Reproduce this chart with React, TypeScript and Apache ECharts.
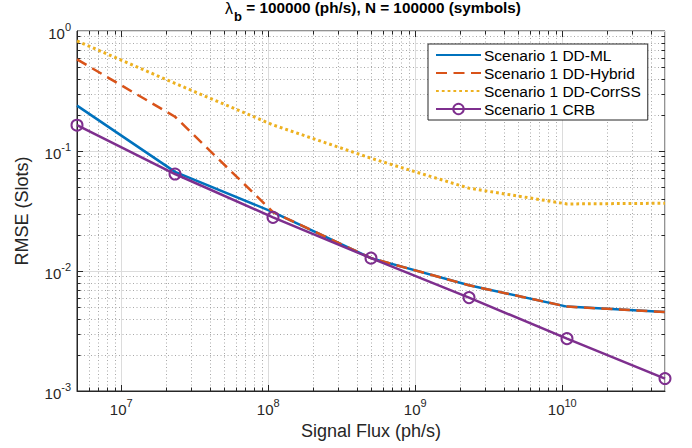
import React, { useEffect, useRef } from "react";
import * as echarts from "echarts";

const SIGNAL_FLUX = [5e6, 2.321e7, 1.077e8, 5e8, 2.321e9, 1.077e10, 5e10];
const DD_ML = [0.239, 0.067, 0.031, 0.0128, 0.0076, 0.00505, 0.00455];
const DD_HYBRID = [0.58, 0.193, 0.031, 0.0128, 0.0076, 0.00505, 0.00455];
const DD_CORRSS = [0.826, 0.366, 0.165, 0.087, 0.049, 0.0362, 0.0367];
const CRB = [0.164, 0.0643, 0.028, 0.0128, 0.006, 0.00273, 0.00127];
const SERIES_NAMES = [
  "Scenario 1 DD-ML",
  "Scenario 1 DD-Hybrid",
  "Scenario 1 DD-CorrSS",
  "Scenario 1 CRB",
];
const COLORS = ["#0072BD", "#D95319", "#EDB120", "#7E2F8E"];

const X_MIN = 5e6;
const X_MAX = 5e10;
const Y_MIN = 1e-3;
const Y_MAX = 1;
const X_DECADES = [1e6, 1e7, 1e8, 1e9, 1e10];
const Y_DECADES = [1e-3, 1e-2, 1e-1];
const MINOR_MULTIPLIERS = [2, 3, 4, 5, 6, 7, 8, 9];
const X_MAJOR = [1e7, 1e8, 1e9, 1e10];
const Y_MAJOR = [1e-2, 1e-1];

const FONT = "'Liberation Sans', Arial, Helvetica, sans-serif";
const AXIS_COLOR = "#262626";

const pairs = (ys: number[]) => SIGNAL_FLUX.map((x, i) => [x, ys[i]]);

const powLabel = (v: number) => {
  const l = Math.log10(v);
  const e = Math.round(l);
  if (Math.abs(l - e) > 1e-6) return "";
  return `{b|10}{s|${e}}`;
};

const labelRich = {
  b: { fontSize: 15, fontFamily: FONT, color: AXIS_COLOR, verticalAlign: "bottom" },
  s: { fontSize: 11, fontFamily: FONT, color: AXIS_COLOR, padding: [0, 0, 9, 0], verticalAlign: "bottom" },
};

export default function App() {
  const ref = useRef<HTMLDivElement>(null);
  useEffect(() => {
    if (!ref.current) return;
    const chart = echarts.init(ref.current, undefined, { renderer: "svg" });

    const minorX: number[] = [];
    X_DECADES.forEach((d) =>
      MINOR_MULTIPLIERS.forEach((m) => {
        const v = d * m;
        if (v > X_MIN && v < X_MAX) minorX.push(v);
      })
    );
    const minorY: number[] = [];
    Y_DECADES.forEach((d) =>
      MINOR_MULTIPLIERS.forEach((m) => {
        const v = d * m;
        if (v > Y_MIN && v < Y_MAX) minorY.push(v);
      })
    );

    const option: any = {
      animation: false,
      backgroundColor: "#ffffff",
      grid: {
        left: 77,
        right: 27,
        top: 31,
        bottom: 57,
        show: true,
        borderColor: AXIS_COLOR,
        borderWidth: 1,
        backgroundColor: "#ffffff",
      },
      graphic: [
        {
          type: "text",
          x: 373,
          y: 0,
          style: {
            text: "{l|λ}{sub|b}{t| = 100000 (ph/s), N = 100000 (symbols)}",
            align: "center",
            verticalAlign: "top",
            rich: {
              l: { fontSize: 16, fontFamily: FONT, color: "#000", verticalAlign: "top", lineHeight: 18 },
              sub: { fontSize: 13, fontWeight: "bold", fontFamily: FONT, color: "#000", padding: [10, 0, 0, 1], lineHeight: 16, verticalAlign: "top" },
              t: { fontSize: 15.3, fontWeight: "bold", fontFamily: FONT, color: "#000", verticalAlign: "top", lineHeight: 18 },
            },
          },
          z: 10,
        },
      ],
      legend: {
        orient: "vertical",
        left: 428,
        top: 44,
        data: [
          { name: SERIES_NAMES[0], itemStyle: { opacity: 0 } },
          { name: SERIES_NAMES[1], itemStyle: { opacity: 0 } },
          { name: SERIES_NAMES[2], itemStyle: { opacity: 0 } },
          { name: SERIES_NAMES[3] },
        ],
        backgroundColor: "#ffffff",
        borderColor: AXIS_COLOR,
        borderWidth: 1,
        borderRadius: 0,
        padding: [3, 7, 3, 7],
        itemGap: 2,
        itemWidth: 45,
        itemHeight: 13,
        textStyle: { fontSize: 15.5, fontFamily: FONT, color: "#000", padding: [0, 0, 0, -2] },
        selectedMode: false,
      },
      xAxis: {
        type: "log",
        logBase: 10,
        min: X_MIN,
        max: X_MAX,
        name: "Signal Flux (ph/s)",
        nameLocation: "middle",
        nameGap: 30,
        nameTextStyle: { fontSize: 18, fontFamily: FONT, color: AXIS_COLOR },
        axisLine: { show: true, lineStyle: { color: AXIS_COLOR, width: 1 } },
        axisTick: { show: false },
        axisLabel: { formatter: powLabel, rich: labelRich, margin: 6, showMinLabel: false, showMaxLabel: false },
        splitLine: { show: true, lineStyle: { color: "#dcdcdc", width: 1 } },
      },
      yAxis: {
        type: "log",
        logBase: 10,
        min: Y_MIN,
        max: Y_MAX,
        name: "RMSE (Slots)",
        nameLocation: "middle",
        nameGap: 46,
        nameTextStyle: { fontSize: 18, fontFamily: FONT, color: AXIS_COLOR },
        axisLine: { show: true, lineStyle: { color: AXIS_COLOR, width: 1 } },
        axisTick: { show: false },
        axisLabel: { formatter: powLabel, rich: labelRich, margin: 6 },
        splitLine: { show: true, lineStyle: { color: "#dcdcdc", width: 1 } },
      },
      series: [
        {
          type: "custom",
          name: "grid-minor",
          silent: true,
          z: 1,
          data: [[1e8, 1e-2]],
          renderItem: (params: any, api: any) => {
            const cs = params.coordSys;
            const left = cs.x;
            const right = cs.x + cs.width;
            const top = cs.y;
            const bottom = cs.y + cs.height;
            const children: any[] = [];
            const dotted = { stroke: "#a8a8a8", lineWidth: 1, lineDash: [1, 2.5] };
            const tick = { stroke: AXIS_COLOR, lineWidth: 1 };
            minorX.forEach((v) => {
              const px = Math.round(api.coord([v, Y_MIN])[0]) + 0.5;
              children.push({ type: "line", shape: { x1: px, y1: top, x2: px, y2: bottom }, style: dotted });
              children.push({ type: "line", shape: { x1: px, y1: bottom, x2: px, y2: bottom - 3.5 }, style: tick });
              children.push({ type: "line", shape: { x1: px, y1: top, x2: px, y2: top + 3.5 }, style: tick });
            });
            minorY.forEach((v) => {
              const py = Math.round(api.coord([X_MIN, v])[1]) + 0.5;
              children.push({ type: "line", shape: { x1: left, y1: py, x2: right, y2: py }, style: dotted });
              children.push({ type: "line", shape: { x1: left, y1: py, x2: left + 3.5, y2: py }, style: tick });
              children.push({ type: "line", shape: { x1: right, y1: py, x2: right - 3.5, y2: py }, style: tick });
            });
            X_MAJOR.forEach((v) => {
              const px = Math.round(api.coord([v, Y_MIN])[0]) + 0.5;
              children.push({ type: "line", shape: { x1: px, y1: bottom, x2: px, y2: bottom - 6 }, style: tick });
              children.push({ type: "line", shape: { x1: px, y1: top, x2: px, y2: top + 6 }, style: tick });
            });
            Y_MAJOR.forEach((v) => {
              const py = Math.round(api.coord([X_MIN, v])[1]) + 0.5;
              children.push({ type: "line", shape: { x1: left, y1: py, x2: left + 6, y2: py }, style: tick });
              children.push({ type: "line", shape: { x1: right, y1: py, x2: right - 6, y2: py }, style: tick });
            });
            return { type: "group", children };
          },
        },
        {
          type: "line",
          name: SERIES_NAMES[0],
          data: pairs(DD_ML),
          symbol: "none",
          z: 3,
          silent: true,
          lineStyle: { color: COLORS[0], width: 2.5 },
          itemStyle: { color: COLORS[0] },
        },
        {
          type: "line",
          name: SERIES_NAMES[1],
          data: pairs(DD_HYBRID),
          symbol: "none",
          z: 4,
          silent: true,
          lineStyle: { color: COLORS[1], width: 2.5, type: [11, 6.5] },
          itemStyle: { color: COLORS[1] },
        },
        {
          type: "line",
          name: SERIES_NAMES[2],
          data: pairs(DD_CORRSS),
          symbol: "none",
          z: 5,
          silent: true,
          lineStyle: { color: COLORS[2], width: 3, type: [2.8, 3] },
          itemStyle: { color: COLORS[2] },
        },
        {
          type: "line",
          name: SERIES_NAMES[3],
          data: pairs(CRB),
          symbol: "circle",
          symbolSize: 11,
          showAllSymbol: true,
          z: 6,
          silent: true,
          lineStyle: { color: COLORS[3], width: 2.5 },
          itemStyle: { color: "rgba(255,255,255,0)", borderColor: COLORS[3], borderWidth: 2 },
        },
      ],
    };
    chart.setOption(option);
    return () => chart.dispose();
  }, []);
  return <div ref={ref} style={{ width: 692, height: 448, position: "absolute", left: 0, top: 0 }} />;
}
